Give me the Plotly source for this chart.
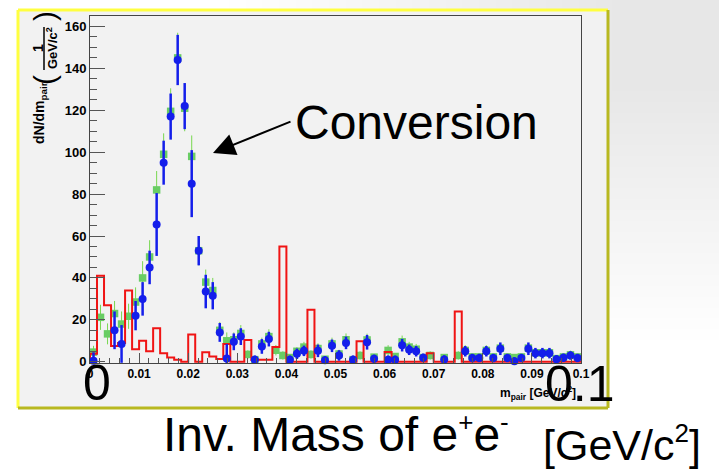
import numpy as np
import plotly.graph_objects as go

# ---------------- data ----------------
N_BINS = 70
M_MIN, M_MAX = 0.0, 0.1

# red histogram (bin contents)
red_counts = [3.8, 41, 27, 7.5, 9, 34, 6, 10, 5, 16,
              4, 2, 1, 0, 13, 0, 4.5, 2.5, 1.3, 8.5,
              0, 0, 10.4, 0.8, 1, 1, 7, 55, 0, 0,
              0, 24.8, 0, 0, 0, 0, 0, 0, 9.8, 0,
              0, 0, 4.6, 0, 0, 0, 0, 0, 4, 0,
              0, 0, 24, 0, 0, 0, 0, 0, 0, 0,
              0, 0, 0, 0, 0, 0, 0, 0, 0, 0]

# blue points (None = empty bin)
blue_vals = [0.5, None, None, 15, 8.5, None, 22, 30, 45, 65.5,
             95, 117, 144, 122, 85, 53, 33.5, 31.5, 14, 1.5,
             9.5, 12, None, 1, 7.3, 10.8, None, None, 1, 3.8,
             5.2, None, 5.2, 0.7, 7.6, 3, 9, 1, None, 9.3,
             1.4, None, 1, 1, 7.9, 5.7, 5, 1.9, None, None,
             1.1, None, None, 5, 1.8, 1.8, 5, 1.8, 6.2, 1.8,
             0.2, 1.8, 6.2, 4.1, 4.1, 4.1, 1.2, 1.9, 3, 1.8]
blue_errs = [4, None, None, 9, 9, None, 7, 8, 8, 15,
             10.5, 11, 12, 11, 16, 7, 8, 6.5, 4.5, 7,
             4, 4, None, 2, 3.5, 3.5, None, None, 2, 2.5,
             2.5, None, 3, 2, 3, 2.5, 3, 2, None, 3.5,
             2, None, 2, 2, 3, 2.5, 2.5, 2, None, None,
             2, None, None, 2.5, 2, 2, 2.5, 2, 3, 2,
             2, 2, 3, 2.5, 2.5, 2.5, 2, 2, 2, 2]

# green points
green_vals = [4.6, 21.2, 13.3, 23, 18, 21.7, 28.5, 40, 50, 82,
              99, 119.5, 145, 121, 98, 53, 38, 34, 15, 10,
              10.5, 13.5, 3.5, 1, 8.5, 12, 5.5, 3, 2, 5,
              7, 3.5, 6.3, 1.2, 8.5, 3.7, 10.5, 1, 3, 10.4,
              2.2, None, 5.4, 2.5, 9.5, 7, 6, 2, 3, None,
              2, None, 3, 5.4, 2.3, 2.3, 5.4, 2.3, 6.5, 2.3,
              2, 2.3, 6.5, 4.3, 4.3, 4.3, 1.5, 2.3, 3.3, 2.3]
green_errs = [3, 6, 5, 6, 6, 6, 7, 8, 8, 9,
              10, 11, 12, 11, 10, 7, 6, 6, 4, 4,
              3.5, 4, 2, 1, 3, 3.5, 2.5, 2, 1.5, 2,
              2.5, 2, 2.5, 1, 3, 2, 3, 1, 2, 3,
              1.5, None, 2.5, 1.5, 3, 2.5, 2.5, 1.5, 2, None,
              1.5, None, 2, 2.5, 1.5, 1.5, 2.5, 1.5, 2.5, 1.5,
              1.5, 1.5, 2.5, 2, 2, 2, 1.5, 1.5, 2, 1.5]

# ---------------- helpers ----------------
width = (M_MAX - M_MIN) / N_BINS
edges = M_MIN + np.arange(N_BINS + 1) * width
centers = M_MIN + (np.arange(N_BINS) + 0.5) * width


def valid(vals, errs):
    xs, ys, es = [], [], []
    for c, v, e in zip(centers, vals, errs):
        if v is not None:
            xs.append(c); ys.append(v); es.append(e)
    return xs, ys, es


# layout geometry (pixels in the 719x469 page)
L, R, T, B = 90, 581, 16, 363


def px(x):
    return (x - L) / (R - L)


def py(y):
    return (B - y) / (B - T)


FONT = "Liberation Sans"
BLUE = "rgb(20,30,235)"
GREEN = "rgb(105,205,100)"
RED = "rgb(240,20,20)"

fig = go.Figure()

gx, gy, ge = valid(green_vals, green_errs)
fig.add_trace(go.Scatter(
    x=gx, y=gy, mode="markers", cliponaxis=False,
    marker=dict(symbol="square", size=7.5, color=GREEN),
    error_y=dict(type="data", array=ge, color="rgb(120,215,80)", thickness=1, width=0),
    showlegend=False, hoverinfo="skip"))

hx = [M_MIN] + list(edges[:-1]) + [M_MAX]
hy = [0] + list(red_counts) + [red_counts[-1]]
fig.add_trace(go.Scatter(
    x=hx, y=hy, mode="lines", line=dict(color=RED, width=2, shape="hv"),
    showlegend=False, hoverinfo="skip"))

bx, by, be = valid(blue_vals, blue_errs)
fig.add_trace(go.Scatter(
    x=bx, y=by, mode="markers", cliponaxis=False,
    marker=dict(symbol="circle", size=8, color=BLUE),
    error_y=dict(type="data", array=be, color=BLUE, thickness=2.5, width=0),
    showlegend=False, hoverinfo="skip"))

axis_common = dict(showline=True, linecolor="#444444", linewidth=1, mirror=True,
                   showgrid=False, zeroline=False, ticks="inside", tickcolor="#555555")

fig.update_xaxes(range=[M_MIN, M_MAX], tick0=0, dtick=0.01, ticklen=10,
                 tickfont=dict(family=FONT, size=12, color="black", weight="bold"),
                 minor=dict(dtick=0.002, ticklen=5, ticks="inside", tickcolor="#555555"),
                 **axis_common)
fig.update_yaxes(range=[-0.6, 165], tick0=0, dtick=20, ticklen=15,
                 tickfont=dict(family=FONT, size=13, color="black", weight="bold"),
                 minor=dict(dtick=5, ticklen=7, ticks="inside", tickcolor="#555555"),
                 **axis_common)

shapes = []
# soft grey shading in the page's top-right corner (many faint layers)
N_SHADE = 24
for i in range(N_SHADE):
    f = 1 - i / N_SHADE
    w, h = 90 + 400 * f, 80 + 260 * f
    shapes.append(dict(type="rect", xref="paper", yref="paper",
                       x0=px(719 - w), x1=px(719), y0=py(h), y1=py(0),
                       fillcolor="rgba(120,120,120,0.009)", line=dict(width=0), layer="below"))
shapes += [
    dict(type="rect", xref="paper", yref="paper", x0=px(18), x1=px(608), y0=py(408), y1=py(10),
         fillcolor="#f2f2f2", line=dict(width=0), layer="below"),
    dict(type="line", xref="paper", yref="paper", x0=px(18), x1=px(608), y0=py(10), y1=py(10),
         line=dict(color="#ffff40", width=3), layer="below"),
    dict(type="line", xref="paper", yref="paper", x0=px(18), x1=px(18), y0=py(10), y1=py(408),
         line=dict(color="#ffff40", width=3), layer="below"),
    dict(type="line", xref="paper", yref="paper", x0=px(18), x1=px(608), y0=py(408), y1=py(408),
         line=dict(color="#b8b820", width=3), layer="below"),
    dict(type="line", xref="paper", yref="paper", x0=px(608), x1=px(608), y0=py(10), y1=py(408),
         line=dict(color="#b8b820", width=3), layer="below"),
    # fraction bar of the y title
    dict(type="line", xref="paper", yref="paper", x0=px(44), x1=px(44), y0=py(27), y1=py(70),
         line=dict(color="black", width=1.5)),
]


def ann(text, x, y, size, bold=False, angle=0, xanchor="center", yanchor="middle"):
    return dict(text=("<b>%s</b>" % text) if bold else text, x=px(x), y=py(y),
                xref="paper", yref="paper", showarrow=False, textangle=angle,
                xanchor=xanchor, yanchor=yanchor,
                font=dict(family=FONT, size=size, color="black"))


SUP = '<sup><span style="font-size:%dpx">%s</span></sup>'

annotations = [
    ann("dN/dm<sub>pair</sub>", 40, 113, 14, bold=True, angle=-90),
    ann("1", 38, 48, 14, bold=True, angle=-90),
    ann("GeV/c<sup>2</sup>", 52, 48, 13, bold=True, angle=-90),
    ann("(", 44, 80, 30, angle=-90),
    ann(")", 44, 16, 30, angle=-90),
    ann("m<sub>pair</sub> [GeV/c<sup>2</sup>]", 578, 393, 12, bold=True, xanchor="right"),
    ann("Conversion", 416, 122, 48),
    ann("0", 97, 383, 50),
    ann("0.1", 580, 384, 50),
    ann("Inv. Mass of e" + SUP % (26, "+") + "e" + SUP % (26, "-"), 336, 434, 48),
    ann("[GeV/c" + SUP % (26, "2") + "]", 622, 443, 43),
    dict(text="", x=px(213), y=py(153), xref="paper", yref="paper", showarrow=True,
         ax=79, ay=-32, axref="pixel", ayref="pixel", arrowhead=2, arrowsize=2.2,
         arrowwidth=2, arrowcolor="black"),
]

fig.update_layout(
    width=719, height=469,
    margin=dict(l=L, r=719 - R, t=T, b=469 - B),
    paper_bgcolor="white", plot_bgcolor="rgba(0,0,0,0)",
    shapes=shapes, annotations=annotations,
    font=dict(family=FONT),
)

fig.write_html("out.html")
